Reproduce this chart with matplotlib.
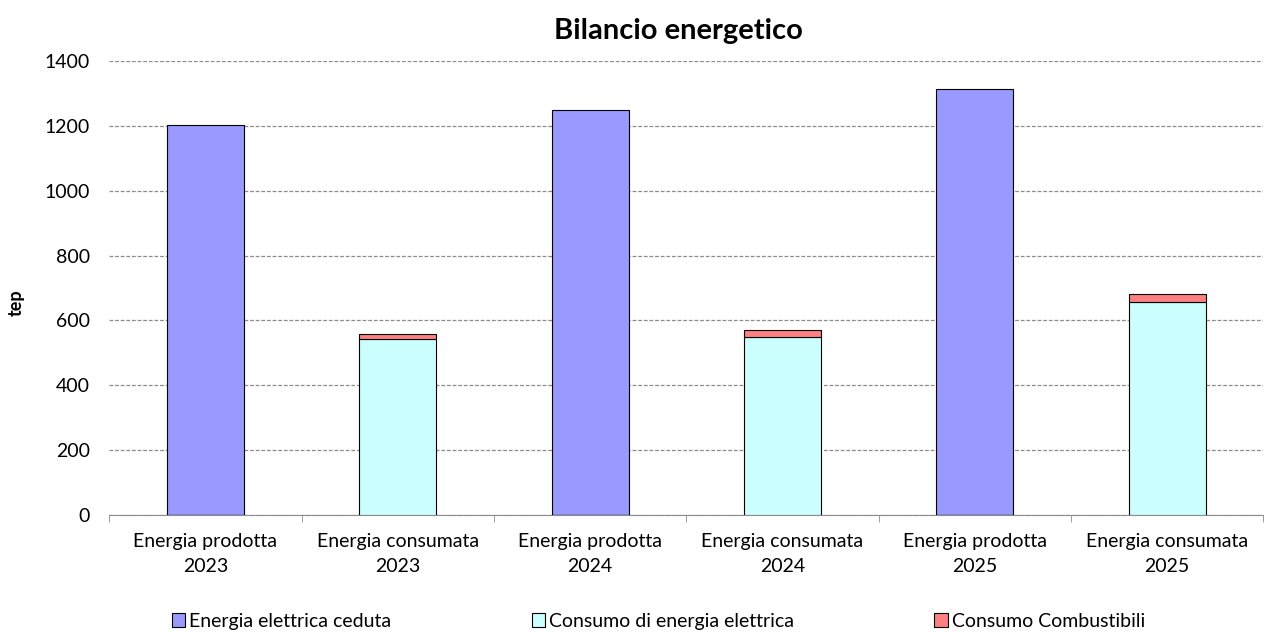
import matplotlib
matplotlib.use('Agg')
import matplotlib.pyplot as plt
import matplotlib.patches as mpatches
import numpy as np

plt.rcParams['font.family'] = ['Lato', 'DejaVu Sans']

# ── Data (tep) ──────────────────────────────────────────────────────
categories = ['Energia prodotta\n2023', 'Energia consumata\n2023',
              'Energia prodotta\n2024', 'Energia consumata\n2024',
              'Energia prodotta\n2025', 'Energia consumata\n2025']
energia_ceduta = [1203, 0, 1250, 0, 1315, 0]
consumo_elettrica = [0, 542, 0, 549, 0, 657]
consumo_combustibili = [0, 16, 0, 20, 0, 23]

series_names = ['Energia elettrica ceduta', 'Consumo di energia elettrica',
                'Consumo Combustibili']
colors = ['#9999FF', '#CCFFFF', '#FF8080']

# ── Draw ────────────────────────────────────────────────────────────
fig = plt.figure(figsize=(12.66, 6.32), dpi=100)
ax = fig.add_axes([0.0863, 0.1859, 0.9116, 0.7168])

x = np.arange(len(categories))
w = 0.40
ax.bar(x, energia_ceduta, w, color=colors[0], edgecolor='black', linewidth=0.8, zorder=3)
ax.bar(x, consumo_elettrica, w, color=colors[1], edgecolor='black', linewidth=0.8, zorder=3)
ax.bar(x, consumo_combustibili, w, bottom=consumo_elettrica, color=colors[2],
       edgecolor='black', linewidth=0.8, zorder=3)

ax.set_xlim(-0.5, len(categories) - 0.5)
ax.set_ylim(0, 1400)
ax.set_yticks(np.arange(0, 1401, 200))
ax.yaxis.grid(True, linestyle=(0, (3, 1.5)), color='#8c8c8c', linewidth=0.9, zorder=0)
ax.set_axisbelow(True)

ax.set_xticks(x)
ax.set_xticklabels(categories, fontsize=14, linespacing=1.6)
ax.set_xticks(np.arange(-0.5, len(categories), 1), minor=True)
ax.tick_params(axis='x', which='major', length=0, pad=13)
ax.tick_params(axis='x', which='minor', length=5, color='#8c8c8c')
ax.tick_params(axis='y', length=0, labelsize=14, pad=14)

for s in ['top', 'right', 'left']:
    ax.spines[s].set_visible(False)
ax.spines['bottom'].set_color('#8c8c8c')

ax.set_ylabel('tep', fontsize=13, fontweight='bold')
ax.yaxis.set_label_coords(-0.073, 0.467)
ax.set_title('Bilancio energetico', fontsize=21, fontweight='bold', pad=16, x=0.493)

handles = [mpatches.Patch(facecolor=c, edgecolor='black', linewidth=0.8, label=n)
           for c, n in zip(colors, series_names)]
fig.legend(handles=handles, loc='center', bbox_to_anchor=(0.52, 0.017), ncol=3,
           frameon=False, fontsize=14, handlelength=0.7, handleheight=0.7,
           handletextpad=0.2, columnspacing=7.2, borderpad=0.1)

fig.savefig('out.png', dpi=100)
